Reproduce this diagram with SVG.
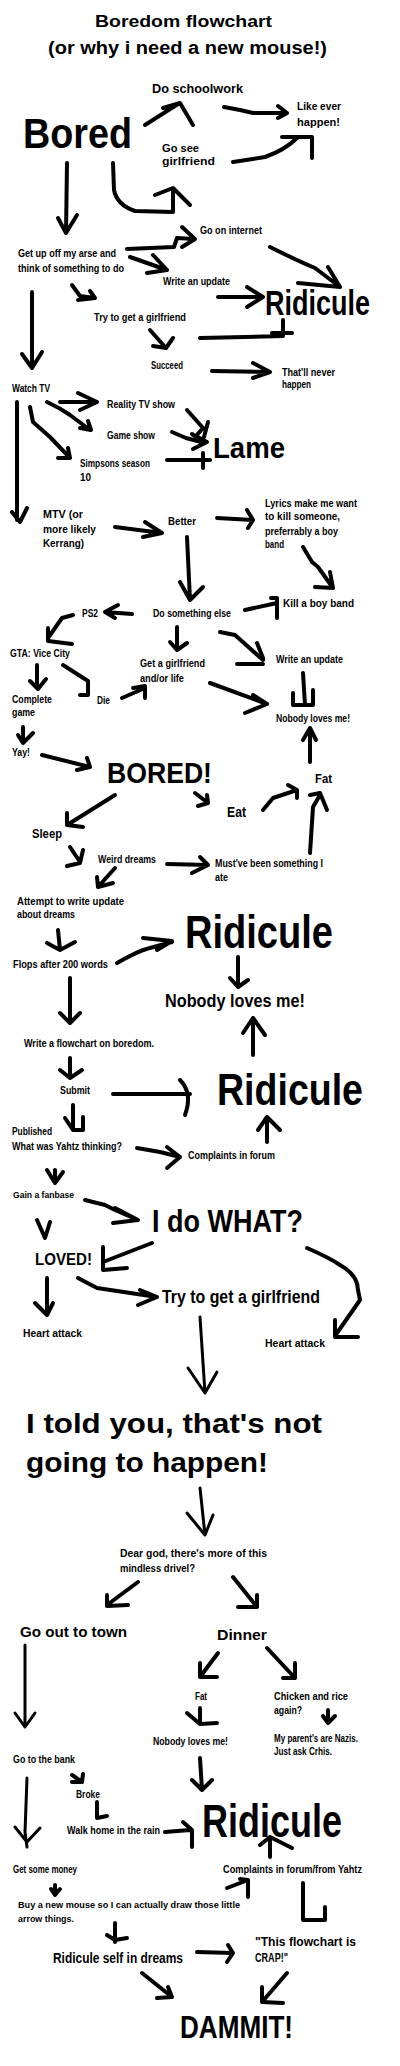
<svg xmlns="http://www.w3.org/2000/svg" width="400" height="2066" viewBox="0 0 400 2066">
<style>
text{font-family:"Liberation Sans",Arial,sans-serif;font-weight:bold;fill:#000}
.c path{fill:none;stroke:#000;stroke-width:4;stroke-linecap:round;stroke-linejoin:round}
.c path.t{stroke-width:3}
</style>
<rect width="400" height="2066" fill="#fff"/>
<g id="nodes" font-size="10">
<g id="title">
<text x="95" y="27" font-size="17" textLength="177" lengthAdjust="spacingAndGlyphs">Boredom flowchart</text>
<text x="48" y="54" font-size="18" textLength="279" lengthAdjust="spacingAndGlyphs">(or why i need a new mouse!)</text>
</g>
<g id="n-schoolwork"><text x="152" y="93" font-size="12.5" textLength="91" lengthAdjust="spacingAndGlyphs">Do schoolwork</text></g>
<g id="n-likeever"><text x="297" y="110" font-size="11.5" textLength="44" lengthAdjust="spacingAndGlyphs">Like ever</text><text x="297" y="126" font-size="11.5" textLength="43" lengthAdjust="spacingAndGlyphs">happen!</text></g>
<g id="n-bored"><text x="23" y="148" font-size="43" textLength="109" lengthAdjust="spacingAndGlyphs">Bored</text></g>
<g id="n-gosee"><text x="162" y="152" font-size="11.5" textLength="37" lengthAdjust="spacingAndGlyphs">Go see</text><text x="162" y="165" font-size="11.5" textLength="53" lengthAdjust="spacingAndGlyphs">girlfriend</text></g>
<g id="n-internet"><text x="200" y="234" textLength="62" lengthAdjust="spacingAndGlyphs">Go on internet</text></g>
<g id="n-getup"><text x="18" y="257" textLength="98" lengthAdjust="spacingAndGlyphs">Get up off my arse and</text><text x="18" y="272" textLength="106" lengthAdjust="spacingAndGlyphs">think of something to do</text></g>
<g id="n-update1"><text x="163" y="285" textLength="67" lengthAdjust="spacingAndGlyphs">Write an update</text></g>
<g id="n-ridicule1"><text x="265" y="315" font-size="35" textLength="105" lengthAdjust="spacingAndGlyphs">Ridicule</text></g>
<g id="n-trygf1"><text x="94" y="321" textLength="92" lengthAdjust="spacingAndGlyphs">Try to get a girlfriend</text></g>
<g id="n-succeed"><text x="151" y="369" textLength="32" lengthAdjust="spacingAndGlyphs">Succeed</text></g>
<g id="n-never"><text x="282" y="376" textLength="53" lengthAdjust="spacingAndGlyphs">That'll never</text><text x="282" y="388" textLength="29" lengthAdjust="spacingAndGlyphs">happen</text></g>
<g id="n-watchtv"><text x="12" y="392" textLength="38" lengthAdjust="spacingAndGlyphs">Watch TV</text></g>
<g id="n-reality"><text x="107" y="408" textLength="68" lengthAdjust="spacingAndGlyphs">Reality TV show</text></g>
<g id="n-gameshow"><text x="107" y="439" textLength="48" lengthAdjust="spacingAndGlyphs">Game show</text></g>
<g id="n-simpsons"><text x="80" y="467" textLength="70" lengthAdjust="spacingAndGlyphs">Simpsons season</text><text x="80" y="481" textLength="11" lengthAdjust="spacingAndGlyphs">10</text></g>
<g id="n-lame"><text x="213" y="458" font-size="30" textLength="72" lengthAdjust="spacingAndGlyphs">Lame</text></g>
<g id="n-lyrics"><text x="265" y="507" textLength="92" lengthAdjust="spacingAndGlyphs">Lyrics make me want</text><text x="265" y="520" textLength="75" lengthAdjust="spacingAndGlyphs">to kill someone,</text><text x="265" y="535" textLength="73" lengthAdjust="spacingAndGlyphs">preferrably a boy</text><text x="265" y="548" textLength="19" lengthAdjust="spacingAndGlyphs">band</text></g>
<g id="n-mtv"><text x="43" y="518" textLength="40" lengthAdjust="spacingAndGlyphs">MTV (or</text><text x="43" y="533" textLength="53" lengthAdjust="spacingAndGlyphs">more likely</text><text x="43" y="547" textLength="41" lengthAdjust="spacingAndGlyphs">Kerrang)</text></g>
<g id="n-better"><text x="168" y="525" textLength="28" lengthAdjust="spacingAndGlyphs">Better</text></g>
<g id="n-killband"><text x="283" y="607" textLength="71" lengthAdjust="spacingAndGlyphs">Kill a boy band</text></g>
<g id="n-else"><text x="153" y="617" textLength="78" lengthAdjust="spacingAndGlyphs">Do something else</text></g>
<g id="n-ps2"><text x="82" y="617" textLength="16" lengthAdjust="spacingAndGlyphs">PS2</text></g>
<g id="n-gta"><text x="10" y="657" textLength="60" lengthAdjust="spacingAndGlyphs">GTA: Vice City</text></g>
<g id="n-getlife"><text x="140" y="667" textLength="65" lengthAdjust="spacingAndGlyphs">Get a girlfriend</text><text x="140" y="682" textLength="44" lengthAdjust="spacingAndGlyphs">and/or life</text></g>
<g id="n-update2"><text x="276" y="663" textLength="67" lengthAdjust="spacingAndGlyphs">Write an update</text></g>
<g id="n-complete"><text x="12" y="703" textLength="40" lengthAdjust="spacingAndGlyphs">Complete</text><text x="12" y="716" textLength="23" lengthAdjust="spacingAndGlyphs">game</text></g>
<g id="n-die"><text x="97" y="704" textLength="13" lengthAdjust="spacingAndGlyphs">Die</text></g>
<g id="n-nobody1"><text x="276" y="722" textLength="74" lengthAdjust="spacingAndGlyphs">Nobody loves me!</text></g>
<g id="n-yay"><text x="12" y="756" textLength="18" lengthAdjust="spacingAndGlyphs">Yay!</text></g>
<g id="n-bored2"><text x="107" y="783" font-size="30" textLength="105" lengthAdjust="spacingAndGlyphs">BORED!</text></g>
<g id="n-eat"><text x="227" y="817" font-size="14.5" textLength="19" lengthAdjust="spacingAndGlyphs">Eat</text></g>
<g id="n-fat1"><text x="315" y="783" font-size="13" textLength="17" lengthAdjust="spacingAndGlyphs">Fat</text></g>
<g id="n-sleep"><text x="32" y="838" font-size="13" textLength="30" lengthAdjust="spacingAndGlyphs">Sleep</text></g>
<g id="n-weird"><text x="98" y="863" textLength="58" lengthAdjust="spacingAndGlyphs">Weird dreams</text></g>
<g id="n-mustve"><text x="215" y="867" textLength="108" lengthAdjust="spacingAndGlyphs">Must've been something I</text><text x="215" y="881" textLength="13" lengthAdjust="spacingAndGlyphs">ate</text></g>
<g id="n-attempt"><text x="17" y="905" textLength="107" lengthAdjust="spacingAndGlyphs">Attempt to write update</text><text x="17" y="918" textLength="58" lengthAdjust="spacingAndGlyphs">about dreams</text></g>
<g id="n-flops"><text x="13" y="968" textLength="95" lengthAdjust="spacingAndGlyphs">Flops after 200 words</text></g>
<g id="n-ridicule2"><text x="185" y="948" font-size="46" textLength="148" lengthAdjust="spacingAndGlyphs">Ridicule</text></g>
<g id="n-nobody2"><text x="165" y="1007" font-size="18.5" textLength="140" lengthAdjust="spacingAndGlyphs">Nobody loves me!</text></g>
<g id="n-flowchart"><text x="24" y="1047" textLength="130" lengthAdjust="spacingAndGlyphs">Write a flowchart on boredom.</text></g>
<g id="n-submit"><text x="60" y="1094" textLength="30" lengthAdjust="spacingAndGlyphs">Submit</text></g>
<g id="n-ridicule3"><text x="217" y="1105" font-size="44" textLength="146" lengthAdjust="spacingAndGlyphs">Ridicule</text></g>
<g id="n-published"><text x="12" y="1135" textLength="40" lengthAdjust="spacingAndGlyphs">Published</text><text x="12" y="1150" textLength="110" lengthAdjust="spacingAndGlyphs">What was Yahtz thinking?</text></g>
<g id="n-complaints1"><text x="188" y="1159" textLength="87" lengthAdjust="spacingAndGlyphs">Complaints in forum</text></g>
<g id="n-fanbase"><text x="13" y="1198" font-size="9" textLength="61" lengthAdjust="spacingAndGlyphs">Gain a fanbase</text></g>
<g id="n-idowhat"><text x="152" y="1232" font-size="32" textLength="151" lengthAdjust="spacingAndGlyphs">I do WHAT?</text></g>
<g id="n-loved"><text x="35" y="1265" font-size="16" textLength="57" lengthAdjust="spacingAndGlyphs">LOVED!</text></g>
<g id="n-heart1"><text x="23" y="1337" font-size="10.5" textLength="59" lengthAdjust="spacingAndGlyphs">Heart attack</text></g>
<g id="n-heart2"><text x="265" y="1347" font-size="10.5" textLength="60" lengthAdjust="spacingAndGlyphs">Heart attack</text></g>
<g id="n-trygf2"><text x="162" y="1303" font-size="18" textLength="158" lengthAdjust="spacingAndGlyphs">Try to get a girlfriend</text></g>
<g id="n-told"><text x="26" y="1433" font-size="28" textLength="296" lengthAdjust="spacingAndGlyphs">I told you, that's not</text><text x="26" y="1472" font-size="28" textLength="242" lengthAdjust="spacingAndGlyphs">going to happen!</text></g>
<g id="n-deargod"><text x="120" y="1557" font-size="10.5" textLength="147" lengthAdjust="spacingAndGlyphs">Dear god, there's more of this</text><text x="120" y="1572" font-size="10.5" textLength="75" lengthAdjust="spacingAndGlyphs">mindless drivel?</text></g>
<g id="n-town"><text x="20" y="1637" font-size="15" textLength="107" lengthAdjust="spacingAndGlyphs">Go out to town</text></g>
<g id="n-dinner"><text x="217" y="1640" font-size="15" textLength="50" lengthAdjust="spacingAndGlyphs">Dinner</text></g>
<g id="n-fat3"><text x="195" y="1700" textLength="12" lengthAdjust="spacingAndGlyphs">Fat</text></g>
<g id="n-chicken"><text x="274" y="1700" textLength="74" lengthAdjust="spacingAndGlyphs">Chicken and rice</text><text x="274" y="1714" textLength="28" lengthAdjust="spacingAndGlyphs">again?</text></g>
<g id="n-nobody3"><text x="153" y="1745" textLength="75" lengthAdjust="spacingAndGlyphs">Nobody loves me!</text></g>
<g id="n-parents"><text x="274" y="1742" font-size="11" textLength="84" lengthAdjust="spacingAndGlyphs">My parent's are Nazis.</text><text x="274" y="1755" font-size="11" textLength="58" lengthAdjust="spacingAndGlyphs">Just ask Crhis.</text></g>
<g id="n-bank"><text x="13" y="1763" textLength="62" lengthAdjust="spacingAndGlyphs">Go to the bank</text></g>
<g id="n-broke"><text x="76" y="1798" textLength="24" lengthAdjust="spacingAndGlyphs">Broke</text></g>
<g id="n-walk"><text x="67" y="1834" textLength="93" lengthAdjust="spacingAndGlyphs">Walk home in the rain</text></g>
<g id="n-ridicule4"><text x="202" y="1837" font-size="46" textLength="140" lengthAdjust="spacingAndGlyphs">Ridicule</text></g>
<g id="n-money"><text x="13" y="1873" textLength="64" lengthAdjust="spacingAndGlyphs">Get some money</text></g>
<g id="n-complaints2"><text x="223" y="1873" textLength="139" lengthAdjust="spacingAndGlyphs">Complaints in forum/from Yahtz</text></g>
<g id="n-mouse"><text x="18" y="1908" font-size="9.5" textLength="222" lengthAdjust="spacingAndGlyphs">Buy a new mouse so I can actually draw those little</text><text x="18" y="1922" font-size="9.5" textLength="56" lengthAdjust="spacingAndGlyphs">arrow things.</text></g>
<g id="n-selfdreams"><text x="53" y="1963" font-size="14" textLength="130" lengthAdjust="spacingAndGlyphs">Ridicule self in dreams</text></g>
<g id="n-crap"><text x="255" y="1946" font-size="13.5" textLength="101" lengthAdjust="spacingAndGlyphs">"This flowchart is</text><text x="255" y="1962" font-size="13.5" textLength="33" lengthAdjust="spacingAndGlyphs">CRAP!"</text></g>
<g id="n-dammit"><text x="180" y="2038" font-size="32" textLength="113" lengthAdjust="spacingAndGlyphs">DAMMIT!</text></g>
</g>
<g id="connectors" class="c">
<path d="M145,125 L178,104 M163,108 L180,103 L193,125"/>
<path d="M224,107 L240,110 L253,113 L287,113 M278,106 L287,113 L278,118"/>
<path d="M233,162 L265,157 Q285,150 297,138 M282,137 L312,137 L312,158"/>
<path d="M67,163 L66,233 M58,218 L66,233 L77,215"/>
<path d="M113,163 L114,190 Q117,205 135,211 L173,212 L173,190 M155,195 L173,188 L190,205"/>
<path d="M127,249 L174,247 L177,238 L194,239 M182,227 L195,239 L182,247"/>
<path d="M130,257 L167,270 M153,255 L167,270 L147,273"/>
<path d="M270,247 Q300,262 315,268 L340,287 M328,267 L340,287 L298,283"/>
<path d="M218,297 L263,297 M247,287 L263,297 L247,307"/>
<path d="M72,285 L80,296 L95,298 M90,291 L95,298 L78,300"/>
<path d="M200,338 L283,336 M283,320 L283,336 M272,333 L292,333"/>
<path d="M150,330 L165,347 M153,346 L166,348 L173,338"/>
<path d="M32,292 L32,368 M22,354 L32,368 L42,352"/>
<path d="M212,371 L270,372 M253,363 L270,372 L253,378"/>
<path d="M60,402 L97,402 M78,393 L97,402 L80,410"/>
<path d="M47,402 Q60,408 70,415 L90,430 M88,421 L91,430 L80,428"/>
<path d="M30,407 L33,422 L50,437 L70,458 M68,448 L70,458 L58,458"/>
<path d="M187,410 L203,428 L196,436 L207,442 M208,422 L204,437"/>
<path d="M172,432 L186,438 L205,443 M192,434 L205,443 L193,449"/>
<path d="M167,460 L210,460 M203,453 L203,468"/>
<path d="M17,402 L17,520 M12,512 L20,522 L27,508"/>
<path d="M115,527 L162,533 M145,522 L162,533 L143,537"/>
<path d="M217,518 L253,520 M247,510 L253,520 L248,528"/>
<path d="M303,547 L312,562 L318,567 L333,588 M330,572 L333,588 L315,587"/>
<path d="M187,537 L190,600 M180,582 L190,600 L203,587"/>
<path d="M245,610 L277,603 M271,598 L277,598 L277,618"/>
<path d="M132,614 L105,612 M118,605 L105,612 L115,618"/>
<path d="M73,615 L62,618 L48,638 M48,628 L48,641 L72,644"/>
<path d="M177,627 L177,650 M170,642 L177,650 L187,643"/>
<path d="M220,632 L235,635 L263,660 M257,643 L263,658 M237,664 L263,664"/>
<path d="M303,673 L305,705 M293,693 L293,705 L313,705 L313,690"/>
<path d="M37,665 L37,688 M30,681 L38,689 L46,679"/>
<path d="M63,665 L88,681 L88,695 L80,695"/>
<path d="M122,698 L145,688 M133,688 L145,686 L145,698"/>
<path d="M210,683 L267,704 M253,695 L267,704 L245,713"/>
<path d="M310,762 L310,730 M303,740 L310,728 L316,740"/>
<path d="M23,727 L23,743 M18,735 L23,743 L33,733"/>
<path d="M42,755 L90,767 M87,758 L90,767 L77,770"/>
<path d="M195,793 L208,803 M207,795 L208,803 L198,806"/>
<path d="M263,810 L273,798 L297,790 M288,785 L297,790 L297,798"/>
<path d="M310,853 L313,807 L320,795 M310,795 L320,793 L327,810"/>
<path d="M115,795 L67,825 M67,813 L67,825 L83,827"/>
<path d="M70,847 L80,862 M83,850 L80,863 L67,866"/>
<path d="M167,864 L208,865 M200,857 L208,865 L192,873"/>
<path d="M115,868 L98,887 M97,877 L98,887 L113,883"/>
<path d="M58,930 L60,950 M47,943 L60,950 L75,942"/>
<path d="M117,963 Q140,950 150,948 L172,942 M143,938 L172,941 L157,950"/>
<path d="M238,957 L238,987 M230,978 L238,987 L248,980"/>
<path d="M70,978 L70,1023 M60,1013 L70,1023 L80,1013"/>
<path d="M253,1055 L253,1018 M243,1033 L253,1018 L265,1035"/>
<path d="M70,1058 L70,1078 M60,1070 L70,1078 L82,1070"/>
<path d="M113,1094 L190,1094 M180,1080 Q193,1093 185,1115"/>
<path d="M73,1105 L73,1130 L83,1130 L83,1117 M65,1118 L73,1130"/>
<path d="M137,1148 L160,1152 L180,1157 M167,1147 L180,1157 L167,1168"/>
<path d="M267,1142 L267,1117 M258,1130 L267,1117 L280,1130"/>
<path d="M55,1170 L55,1183 M47,1170 L55,1183 L63,1172"/>
<path d="M85,1200 L105,1205 L115,1210 L138,1220 M115,1208 L138,1220 L113,1223"/>
<path d="M37,1220 L45,1238 L50,1222"/>
<path d="M152,1243 L103,1262 M103,1247 L103,1270 L127,1268"/>
<path d="M307,1248 Q330,1258 340,1265 Q358,1275 358,1290 L360,1300 L337,1333 M335,1320 L335,1337 L358,1337"/>
<path d="M47,1278 L47,1315 M35,1303 L47,1315 L53,1303"/>
<path d="M78,1278 L97,1288 L157,1297 M140,1290 L157,1297 L138,1305"/>
<path class="t" d="M200,1317 L205,1393 M188,1368 L205,1393 L217,1372"/>
<path class="t" d="M200,1488 L205,1535 M187,1513 L205,1535 L213,1515"/>
<path d="M138,1582 L107,1605 M107,1595 L107,1606 L128,1605"/>
<path d="M233,1577 L257,1607 M257,1595 L257,1607 L238,1607"/>
<path class="t" d="M25,1645 L25,1727 M15,1713 L25,1727 L35,1713"/>
<path d="M218,1653 L200,1677 M200,1663 L200,1677 L217,1677"/>
<path d="M267,1648 L295,1678 M295,1663 L295,1678 L283,1678"/>
<path d="M187,1713 L200,1724 L217,1723 M200,1708 L200,1724"/>
<path d="M328,1710 L328,1723 M323,1716 L328,1723 L335,1716"/>
<path d="M72,1775 L82,1782 M83,1774 L82,1782 L72,1782"/>
<path d="M97,1802 L97,1818 L107,1816"/>
<path d="M165,1832 L190,1830 M183,1822 L192,1830 L192,1847"/>
<path d="M200,1758 L202,1790 M192,1780 L202,1790 L212,1780"/>
<path class="t" d="M27,1778 L25,1832 L27,1847 M15,1827 L27,1842 L40,1828"/>
<path d="M270,1857 L270,1837 M260,1845 L270,1837 L292,1848"/>
<path d="M55,1885 L55,1895 M51,1889 L55,1895 L60,1889"/>
<path d="M115,1923 L115,1942 M107,1935 L115,1940 L127,1938"/>
<path d="M197,1952 L233,1953 M228,1945 L233,1953 L227,1962"/>
<path d="M227,1888 L248,1880 M240,1879 L248,1880 L248,1897"/>
<path d="M303,1883 L303,1920 L325,1920 L325,1907"/>
<path d="M142,1973 L172,1997 M168,1987 L172,1997 L157,1998"/>
<path d="M287,1973 L262,2002 M262,1987 L262,2002 L283,2003"/>
</g>
</svg>
